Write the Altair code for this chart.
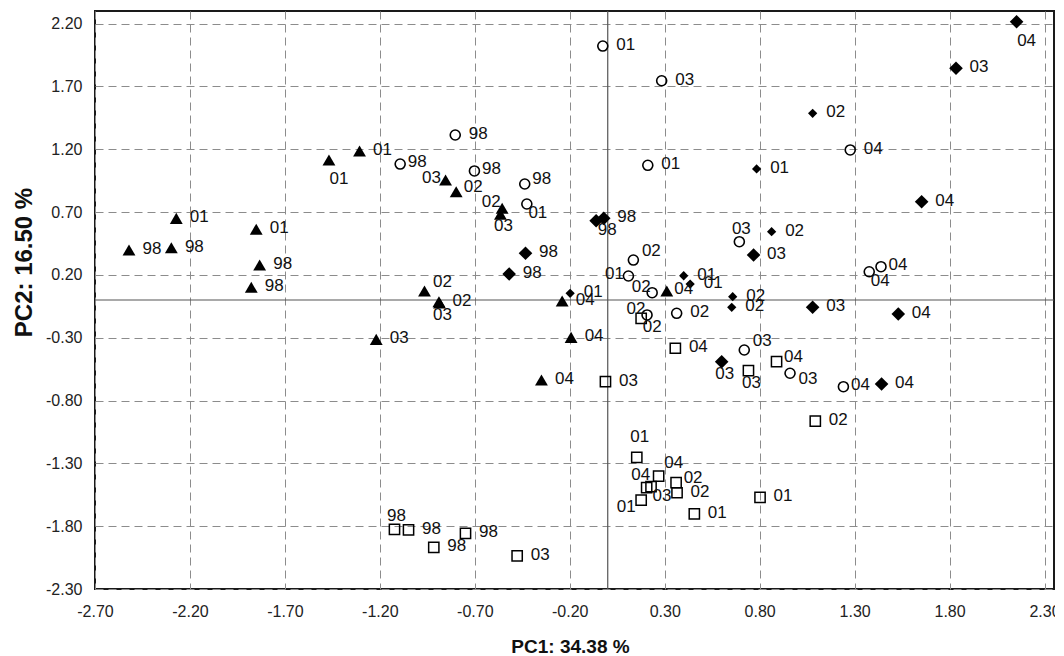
import altair as alt
import pandas as pd

# ---------------- data ----------------
# filled triangles
tri_pc1 = [-1.468, -1.307, -2.272, -2.521, -2.298, -1.851, -1.833, -1.877, -0.854, -0.798,
           -0.556, -0.565, -0.965, -0.889, -0.886, -0.240, 0.311, -1.219, -0.193, -0.349]
tri_pc2 = [1.114, 1.186, 0.650, 0.398, 0.416, 0.563, 0.279, 0.101, 0.955, 0.862,
           0.730, 0.682, 0.072, -0.014, -0.024, -0.008, 0.072, -0.313, -0.297, -0.637]
tri_year = ["01", "01", "01", "98", "98", "01", "98", "98", "03", "02",
            "02", "03", "02", "02", "03", "04", "04", "03", "04", "04"]
tri_pos = ["bbr", "r", "r", "r", "r", "r", "r", "r", "l", "ru",
           "al", "b", "ar", "r", "b", "r", "rc", "r", "r", "r"]

# open circles
circ_pc1 = [-0.026, 0.284, -0.803, -1.093, -0.702, -0.437, -0.426, 0.211, 0.135, 0.109,
            0.234, 0.207, 0.363, 1.277, 0.693, 1.377, 1.439, 0.719, 0.960, 1.241]
circ_pc2 = [2.021, 1.745, 1.313, 1.082, 1.027, 0.923, 0.764, 1.072, 0.318, 0.191,
            0.058, -0.119, -0.106, 1.194, 0.464, 0.225, 0.265, -0.398, -0.583, -0.690]
circ_year = ["01", "03", "98", "98", "98", "98", "01", "01", "02", "01",
             "02", "02", "02", "04", "03", "04", "04", "03", "03", "04"]
circ_pos = ["r", "r", "r", "rc", "rc", "ru", "br", "r", "ar", "l",
            "al", "al", "r", "r", "a", "br", "rc", "ar", "rd", "rc"]

# filled diamonds
dia_pc1 = [2.153, 1.834, 1.653, 0.768, 1.079, 1.530, -0.061, -0.021, -0.433, -0.519,
           0.600, 1.442, 1.079, 0.784, 0.863, 0.400, 0.434, 0.658, 0.653, -0.198]
dia_pc2 = [2.215, 1.844, 0.782, 0.358, -0.058, -0.111, 0.631, 0.650, 0.372, 0.207,
           -0.491, -0.669, 1.486, 1.043, 0.544, 0.193, 0.127, 0.026, -0.058, 0.053]
dia_year = ["04", "03", "04", "03", "03", "04", "98", "98", "98", "98",
            "03", "04", "02", "01", "02", "01", "01", "02", "02", "01"]
dia_pos = ["bbr", "r", "r", "r", "r", "r", "br", "r", "r", "r",
           "b", "r", "r", "r", "r", "r", "r", "r", "r", "r"]

# open squares
sq_pc1 = [-0.012, 0.356, 0.153, 0.268, 0.205, 0.228, 0.176, 0.360, 0.365, 0.456,
          -1.123, -1.049, -0.916, -0.749, -0.477, 0.176, 0.889, 0.741, 1.093, 0.802]
sq_pc2 = [-0.650, -0.384, -1.252, -1.401, -1.494, -1.486, -1.592, -1.454, -1.534, -1.703,
          -1.825, -1.830, -1.968, -1.857, -2.037, -0.146, -0.491, -0.563, -0.963, -1.570]
sq_year = ["03", "04", "01", "04", "04", "03", "01", "02", "02", "01",
           "98", "98", "98", "98", "03", "02", "04", "03", "02", "01"]
sq_pos = ["r", "r", "aa", "aar", "aal", "br", "bl", "ru", "r", "r",
          "a", "r", "r", "r", "r", "br", "ru", "b", "r", "r"]

x_ticks = [-2.7, -2.2, -1.7, -1.2, -0.7, -0.2, 0.3, 0.8, 1.3, 1.8, 2.3]
y_ticks = [-2.3, -1.8, -1.3, -0.8, -0.3, 0.2, 0.7, 1.2, 1.7, 2.2]
x_title = "PC1: 34.38 %"
y_title = "PC2: 16.50 %"

# ---------------- build table ----------------
rows = []
for grp, xs_, ys_, yr, ps in [
    ("tri", tri_pc1, tri_pc2, tri_year, tri_pos),
    ("circ", circ_pc1, circ_pc2, circ_year, circ_pos),
    ("dia", dia_pc1, dia_pc2, dia_year, dia_pos),
    ("sq", sq_pc1, sq_pc2, sq_year, sq_pos),
]:
    for a, b, c, d in zip(xs_, ys_, yr, ps):
        rows.append({"group": grp, "pc1": a, "pc2": b, "year": c, "pos": d})
df = pd.DataFrame(rows)
zero_df = pd.DataFrame({"pc1": [0.0], "pc2": [0.0]})

FONT = "Liberation Sans"
LABEL_EXPR = "replace(format(datum.value, '.2f'), '\u2212', '-')"

xscale = alt.Scale(domain=[-2.7, 2.35], nice=False, zero=False)
yscale = alt.Scale(domain=[-2.3, 2.3], nice=False, zero=False)

xaxis = alt.Axis(values=x_ticks, labelExpr=LABEL_EXPR, title=x_title, grid=True, ticks=False,
                 domain=False, labelFontSize=16, labelPadding=14, labelFlush=False,
                 labelOverlap=False, labelColor="#222", labelFont=FONT,
                 titleFont=FONT, titleFontSize=19, titleFontWeight="bold", titleColor="#111",
                 titleX=475, titleY=57, titleBaseline="middle", titleAlign="center",
                 gridDash=[8, 5], gridColor="#8c8c8c", gridWidth=1)
yaxis = alt.Axis(values=y_ticks, labelExpr=LABEL_EXPR, title=y_title, grid=True, ticks=False,
                 domain=False, labelFontSize=16, labelPadding=13, labelFlush=False,
                 labelOverlap=False, labelColor="#222", labelFont=FONT,
                 titleFont=FONT, titleFontSize=24, titleFontWeight="bold", titleColor="#111",
                 titleX=-71, titleY=251, titleBaseline="middle", titleAlign="center",
                 titleAngle=270,
                 gridDash=[8, 5], gridColor="#8c8c8c", gridWidth=1)

base = alt.Chart(df).encode(
    x=alt.X("pc1:Q", scale=xscale, axis=xaxis),
    y=alt.Y("pc2:Q", scale=yscale, axis=yaxis),
)

zx = alt.Chart(zero_df).mark_rule(color="#555555", strokeWidth=1.2).encode(x="pc1:Q")
zy = alt.Chart(zero_df).mark_rule(color="#555555", strokeWidth=1.2).encode(y="pc2:Q")

tri = base.transform_filter("datum.group == 'tri'").mark_point(
    shape="triangle-up", filled=True, color="black", opacity=1, size=165)
circ = base.transform_filter("datum.group == 'circ'").mark_point(
    shape="circle", filled=False, color="black", opacity=1, size=100, strokeWidth=1.6)
dia = base.transform_filter("datum.group == 'dia'").mark_point(
    shape="diamond", filled=True, color="black", opacity=1).encode(
    size=alt.condition("datum.year == '01' || datum.year == '02'", alt.value(86), alt.value(185)))
sq = base.transform_filter("datum.group == 'sq'").mark_point(
    shape="square", filled=False, color="black", opacity=1, size=105, strokeWidth=1.5)

PLACE = {
    "r": (23, -1), "rc": (17, -2), "ru": (17, -5), "rd": (18, 6),
    "l": (-14, -2), "al": (-11, -6), "ar": (18, -9),
    "a": (2, -13), "aa": (3, -20), "aar": (15, -13), "aal": (-6, -13),
    "b": (3, 12), "br": (11, 9), "bbr": (10, 19), "bl": (-15, 7),
}
texts = []
for code, (dx, dy) in PLACE.items():
    texts.append(
        base.transform_filter(f"datum.pos == '{code}'").mark_text(
            dx=dx, dy=dy, align="center", baseline="middle", fontSize=17,
            font=FONT, color="#111").encode(text="year:N")
    )

chart = alt.layer(zx, zy, tri, circ, dia, sq, *texts).properties(
    width=959, height=578,
    autosize=alt.AutoSizeParams(type="none"),
    padding={"left": 87, "top": 3, "right": 1, "bottom": 72},
    background="white",
).configure_view(stroke="#1a1a1a", strokeWidth=2)

chart.save("out.html", embed_options={"renderer": "svg", "actions": False})
